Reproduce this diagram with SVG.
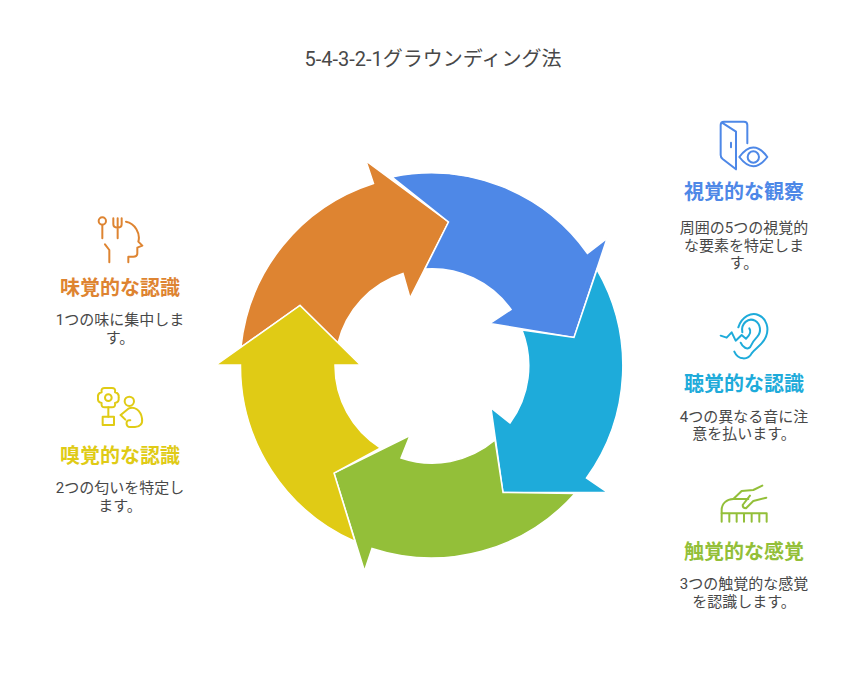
<svg xmlns="http://www.w3.org/2000/svg" width="864" height="684" viewBox="0 0 864 684">
<style>
text{font-family:"Roboto","Noto Sans CJK JP","Noto Sans",sans-serif;text-anchor:middle}
.title{font-size:20px;fill:#484848}
.head{font-size:20px;font-weight:700}
.body{font-size:15px;fill:#484848}
.arrow{stroke:#fff;stroke-width:1.5;stroke-linejoin:miter}
.icon{fill:none;stroke-width:6;stroke-linecap:round;stroke-linejoin:round}
</style>
<rect width="864" height="684" fill="#fff"/>
<text class="title" x="433" y="66">5-4-3-2-1グラウンディング法</text>
<g id="connectors">
<path id="arrow-orange" class="arrow" fill="#de8431" d="M241 347 A192 192 0 0 1 373.500 183.500 L366 161 L448.500 222 L410 298 L403 273.500 A97 97 0 0 0 338 343 L300 305.500 Z"/>
<path id="arrow-blue" class="arrow" fill="#4e88e7" d="M392 177 A192 192 0 0 1 587.500 253.500 L607 238.500 L574 337.500 L490 323.500 L511 309.500 A97 97 0 0 0 425 269 L448.500 222 Z"/>
<path id="arrow-cyan" class="arrow" fill="#1eabda" d="M597 269.500 A192 192 0 0 1 586.500 478 L607.500 492.500 L503 492.500 L491 408 L510 423 A97 97 0 0 0 522 330 L574 337.500 Z"/>
<path id="arrow-green" class="arrow" fill="#93bf39" d="M575 493.500 A192 192 0 0 1 372 548.500 L364.500 571 L334 473 L410 435.500 L401 458 A97 97 0 0 0 495 440 L503 492.500 Z"/>
<path id="arrow-yellow" class="arrow" fill="#e0cb15" d="M355 541.500 A192 192 0 0 1 240.500 365 L216 365 L300 305.500 L360.500 365 L335 365 A97 97 0 0 0 380.500 448 L334 473 Z"/>
</g>
<g id="node-sight">
<g class="icon" stroke="#4e88e7" transform="translate(670,110) scale(.3333)">
<path d="M232 100V45Q232 35 222 35H162Q152 35 152 45V135Q152 142 158 147L198 178V65L156 38"/>
<path d="M183 98V112"/>
<path d="M208 141Q250 84 292 141Q250 196 208 141Z"/>
<circle cx="250" cy="141" r="17"/>
</g>
<text class="head" fill="#4e88e7" x="744" y="199">視覚的な観察</text>
<text class="body" x="744" y="233">周囲の5つの視覚的</text>
<text class="body" x="744" y="251">な要素を特定しま</text>
<text class="body" x="744" y="268">す。</text>
</g>
<g id="node-hearing">
<g class="icon" stroke="#1eabda" transform="translate(670,300) scale(.3333)">
<path d="M205 82C215 50 245 35 265 45C290 55 298 85 288 110C278 135 255 145 245 160C235 180 205 182 193 155"/>
<path d="M217 97C212 70 235 52 255 62C272 72 275 95 262 110C250 122 245 132 240 142C232 150 218 142 212 128"/>
<path d="M152 107L170 113L185 97L197 122L215 105L228 116C240 105 245 95 238 85"/>
</g>
<text class="head" fill="#1eabda" x="744" y="391">聴覚的な認識</text>
<text class="body" x="744" y="422">4つの異なる音に注</text>
<text class="body" x="744" y="439">意を払います。</text>
</g>
<g id="node-touch">
<g class="icon" stroke="#93bf39" transform="translate(670,475) scale(.3333)">
<path d="M155 140V105C155 85 170 73 190 72H235"/>
<path d="M190 72L215 48L250 45L277 32"/>
<path d="M289 68L250 78L228 100Q218 100 218 90L240 62"/>
<path d="M155 115H290V140M178 115V140M200 115V140M222 115V140M245 115V140M268 115V140"/>
</g>
<text class="head" fill="#93bf39" x="744" y="559">触覚的な感覚</text>
<text class="body" x="744" y="589">3つの触覚的な感覚</text>
<text class="body" x="744" y="607">を認識します。</text>
</g>
<g id="node-smell">
<g class="icon" stroke="#e0cb15" transform="translate(50,375) scale(.3333)">
<circle cx="175" cy="68" r="10"/>
<path d="M155 52Q152 38 166 39H184Q198 38 195 52Q208 55 206 68Q208 82 195 84Q198 98 184 97H166Q152 98 155 84Q142 82 144 68Q142 55 155 52Z"/>
<path d="M175 97V125"/>
<path d="M158 125H192V150H158Z"/>
<circle cx="238" cy="79" r="14"/>
<path d="M212 120L235 101C252 92 272 105 276 130C279 146 270 156 255 156H240C226 156 226 132 241 136"/>
<path d="M212 120L226 134"/>
</g>
<text class="head" fill="#e0cb15" x="120" y="463">嗅覚的な認識</text>
<text class="body" x="120" y="493">2つの匂いを特定し</text>
<text class="body" x="120" y="511">ます。</text>
</g>
<g id="node-taste">
<g class="icon" stroke="#de8431" transform="translate(50,205) scale(.3333)">
<circle cx="157" cy="48" r="11"/>
<path d="M157 59V100"/>
<path d="M190 40V58Q190 68 203 68Q215 68 215 58V40M203 40V100"/>
<path d="M228 50C255 55 272 85 265 110L277 122L262 128V145Q262 155 250 155H235V172"/>
<path d="M165 118L178 135V172"/>
</g>
<text class="head" fill="#de8431" x="120" y="295">味覚的な認識</text>
<text class="body" x="120" y="325">1つの味に集中しま</text>
<text class="body" x="120" y="343">す。</text>
</g>
</svg>
